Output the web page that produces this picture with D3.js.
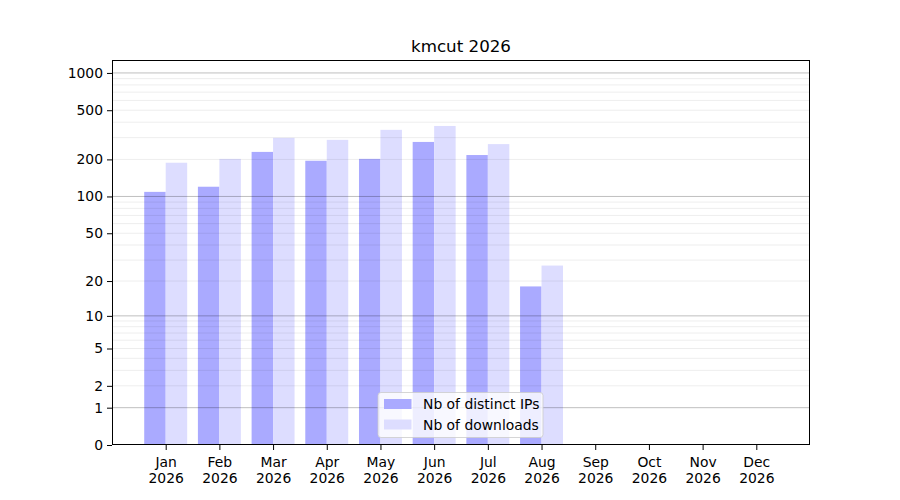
<!DOCTYPE html>
<html>
<head>
<meta charset="utf-8">
<script src="https://cdn.jsdelivr.net/npm/d3@7"></script>
<style>
  body { margin: 0; background: #fff; }
  text { font-family: "DejaVu Sans", sans-serif; fill: #000; }
</style>
</head>
<body>
<script>
// chart data
const title = "kmcut 2026";
const months = ["Jan", "Feb", "Mar", "Apr", "May", "Jun", "Jul", "Aug", "Sep", "Oct", "Nov", "Dec"];
const year = "2026";
const distinctIPs = [109, 120, 230, 195, 202, 277, 217, 18, 0, 0, 0, 0];
const downloads = [188, 202, 299, 288, 347, 373, 266, 27, 0, 0, 0, 0];
const yTicks = [0, 1, 2, 5, 10, 20, 50, 100, 200, 500, 1000];
const majorGrid = [1, 10, 100, 1000];
const minorGrid = [2, 3, 4, 5, 6, 7, 8, 9, 20, 30, 40, 50, 60, 70, 80, 90,
                   200, 300, 400, 500, 600, 700, 800, 900];
const seriesNames = ["Nb of distinct IPs", "Nb of downloads"];
const seriesColors = ["#aaaaff", "#ddddff"];

const w = 900, h = 500;
const margin = { top: 60, right: 90, bottom: 55, left: 112 };

const svg = d3.select("body").append("svg")
    .attr("width", w)
    .attr("height", h);

//scales
const x = d3.scaleLinear()
    .domain([-1, 12])
    .range([margin.left, w - margin.right]);

const y = d3.scaleSymlog().constant(1)
    .domain([0, 1272])
    .range([h - margin.bottom, margin.top]);

const barW = x(0.4) - x(0);

//bars: IPs left of tick, downloads right of tick
const series = [distinctIPs, downloads];
series.forEach((vals, s) => {
    svg.append("g").selectAll("rect")
        .data(vals.map((v, i) => ({ v, i })).filter(d => d.v > 0))
        .enter()
        .append("rect")
        .attr("x", d => s === 0 ? x(d.i - 0.4) : x(d.i))
        .attr("width", barW)
        .attr("y", d => y(d.v))
        .attr("height", d => y(0) - y(d.v))
        .style("fill", seriesColors[s]);
});

//grid lines over the bars
const grid = svg.append("g");
grid.selectAll(".minor")
    .data(minorGrid)
    .enter().append("line")
    .attr("class", "minor")
    .attr("x1", margin.left).attr("x2", w - margin.right)
    .attr("y1", d => y(d)).attr("y2", d => y(d))
    .style("stroke", "#000").style("stroke-opacity", 0.07).style("stroke-width", 1);
grid.selectAll(".major")
    .data(majorGrid)
    .enter().append("line")
    .attr("class", "major")
    .attr("x1", margin.left).attr("x2", w - margin.right)
    .attr("y1", d => y(d)).attr("y2", d => y(d))
    .style("stroke", "#000").style("stroke-opacity", 0.25).style("stroke-width", 1);

//y axis
const yAxis = d3.axisLeft(y)
    .tickValues(yTicks)
    .tickFormat(d3.format("d"))
    .tickSize(5)
    .tickPadding(4);
const yg = svg.append("g")
    .attr("transform", `translate(${margin.left},0)`)
    .call(yAxis);
yg.select(".domain").remove();
yg.selectAll("text").style("font-size", "13.9px").style("font-family", "DejaVu Sans");

//x axis with two-line labels
const xAxis = d3.axisBottom(x)
    .tickValues(d3.range(months.length))
    .tickFormat("")
    .tickSize(5);
const xg = svg.append("g")
    .attr("transform", `translate(0,${h - margin.bottom})`)
    .call(xAxis);
xg.select(".domain").remove();
const lbl = xg.selectAll(".tick").append("text")
    .attr("text-anchor", "middle")
    .style("font-size", "13.9px")
    .style("fill", "#000");
lbl.append("tspan").attr("x", 0).attr("y", 21.5).text(i => months[i]);
lbl.append("tspan").attr("x", 0).attr("y", 37.5).text(year);

//frame
svg.append("rect")
    .attr("x", margin.left + 0.5)
    .attr("y", margin.top + 0.5)
    .attr("width", w - margin.right - margin.left - 1)
    .attr("height", h - margin.bottom - margin.top - 1)
    .style("fill", "none")
    .style("stroke", "#000")
    .style("stroke-width", 1);

//title
svg.append("text")
    .attr("x", (margin.left + w - margin.right) / 2)
    .attr("y", margin.top - 8)
    .attr("text-anchor", "middle")
    .style("font-size", "16.7px")
    .text(title);

//legend, lower center
const legend = svg.append("g")
    .attr("transform", `translate(${(margin.left + w - margin.right) / 2 - 83},392.5)`);
legend.append("rect")
    .attr("width", 165)
    .attr("height", 45)
    .attr("rx", 3)
    .style("fill", "#fff").style("fill-opacity", 0.8)
    .style("stroke", "#ccc").style("stroke-opacity", 0.8);
seriesNames.forEach((name, s) => {
    legend.append("rect")
        .attr("x", 6)
        .attr("y", 6.5 + s * 20.5)
        .attr("width", 27.5)
        .attr("height", 10)
        .style("fill", seriesColors[s]);
    legend.append("text")
        .attr("x", 45)
        .attr("y", 16.5 + s * 20.5)
        .style("font-size", "13.9px")
        .text(name);
});
</script>
</body>
</html>
